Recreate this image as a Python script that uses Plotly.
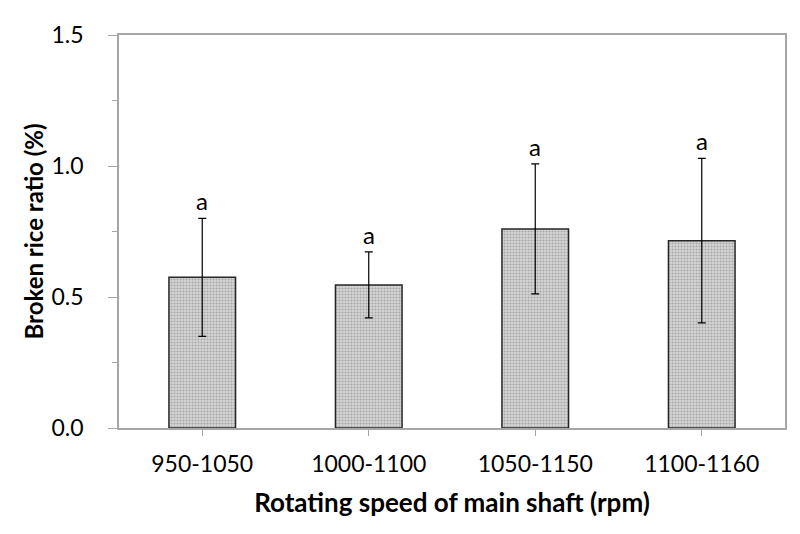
import plotly.graph_objects as go

categories = ["950-1050", "1000-1100", "1050-1150", "1100-1160"]
means = [0.575, 0.546, 0.760, 0.715]
errors = [0.225, 0.126, 0.248, 0.314]
letters = ["a", "a", "a", "a"]
y_ticks = [0.0, 0.5, 1.0, 1.5]
y_ticktext = ["0.0", "0.5", "1.0", "1.5"]

FONT = "Lato"
GRAY = "#a6a6a6"

fig = go.Figure()
fig.add_trace(go.Bar(
    x=categories, y=means, width=0.40,
    marker=dict(color="#c4c4c4",
                line=dict(color="#262626", width=1.5),
                pattern=dict(shape=".", fgcolor="#7a7a7a", bgcolor="#d6d6d6",
                             size=3, solidity=0.4)),
    error_y=dict(type="data", array=errors, visible=True,
                 color="black", thickness=1.2, width=4),
    showlegend=False, hoverinfo="skip",
))

for c, m, e, l in zip(categories, means, errors, letters):
    fig.add_annotation(x=c, y=m + e, text=l, showarrow=False, yanchor="bottom",
                       yshift=1, font=dict(family=FONT, size=24, color="black"))

fig.update_layout(
    width=800, height=534,
    margin=dict(l=119, r=15, t=35, b=106),
    paper_bgcolor="white", plot_bgcolor="white",
    font=dict(family=FONT, color="black"),
    xaxis=dict(type="category", range=[-0.5, 3.5],
               ticks="outside", ticklen=6, tickcolor=GRAY, tickwidth=1.2,
               showline=True, linecolor=GRAY, linewidth=1.5, mirror=True,
               showgrid=False, zeroline=False,
               tickfont=dict(family=FONT, size=23, color="black"),
               ticklabelstandoff=9,
               title=dict(text="<b>Rotating speed of main shaft (rpm)</b>",
                          font=dict(family=FONT, size=26, color="black"),
                          standoff=17)),
    yaxis=dict(range=[0, 1.5], tickvals=y_ticks, ticktext=y_ticktext,
               ticks="outside", ticklen=9, tickcolor=GRAY, tickwidth=1.2,
               minor=dict(dtick=0.25, ticks="outside", ticklen=5, tickcolor=GRAY, tickwidth=1.2),
               showline=True, linecolor=GRAY, linewidth=1.5, mirror=True,
               showgrid=False, zeroline=False,
               tickfont=dict(family=FONT, size=23, color="black"),
               ticklabelstandoff=20,
               title=dict(text="<b>Broken rice ratio (%)</b>",
                          font=dict(family=FONT, size=24, color="black"),
                          standoff=1)),
)
fig.write_html("out.html", config={"displayModeBar": False},
               post_script="document.body.style.margin='0';")
